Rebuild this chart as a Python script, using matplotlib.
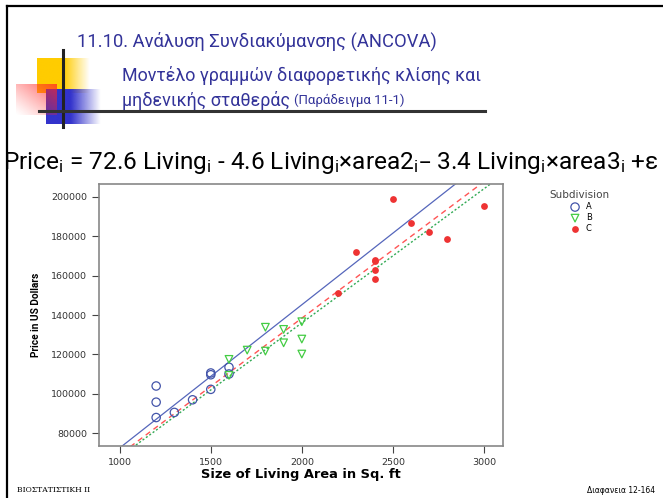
import numpy as np
import matplotlib
matplotlib.use("Agg")
import matplotlib.pyplot as plt
from matplotlib import font_manager

# --- data ---
area_a = [1200, 1200, 1200, 1300, 1400, 1500, 1500, 1500, 1600, 1600]
price_a = [104000, 95800, 88000, 90600, 97000, 110600, 109700, 102300, 113500, 110100]

area_b = [1600, 1600, 1700, 1800, 1800, 1900, 1900, 2000, 2000, 2000]
price_b = [117500, 109400, 122200, 133800, 121700, 132700, 125900, 136600, 127800, 120200]

area_c = [2200, 2300, 2400, 2400, 2400, 2400, 2500, 2600, 2700, 2800, 3000]
price_c = [151000, 172000, 168000, 167400, 162800, 158400, 199000, 186500, 182000, 178700, 195400]

# fitted slopes (no intercept): A, B, C
slope_a = 72.6
slope_b = 72.6 - 4.6
slope_c = 72.6 - 3.4

groups = ["A", "B", "C"]

names = {f.name for f in font_manager.fontManager.ttflist}
head_font = "Liberation Sans Narrow" if "Liberation Sans Narrow" in names else "Roboto"

fig = plt.figure(figsize=(6.63, 4.98), dpi=100)

# slide background / decoration in pixel coordinates
deco = fig.add_axes([0, 0, 1, 1])
deco.set_xlim(0, 663)
deco.set_ylim(498, 0)
deco.axis("off")

deco.plot([7, 7], [6, 498], color="black", lw=1.6)
deco.plot([7, 663], [6, 6], color="black", lw=1.6)


def grad_box(x0, x1, y0, y1, rgb, solid_frac, alpha=1.0, diag=False):
    n = 100
    img = np.zeros((n, n, 4))
    img[..., 0], img[..., 1], img[..., 2] = rgb
    t = np.linspace(0, 1, n)
    if diag:
        xx, yy = np.meshgrid(t, t)
        a = np.clip((xx + (1 - yy)) / 2, 0, 1) ** 1.2
    else:
        a = np.clip((1 - t) / (1 - solid_frac), 0, 1)
        a = np.tile(a, (n, 1))
    img[..., 3] = a * alpha
    deco.imshow(img, extent=[x0, x1, y1, y0], aspect="auto", interpolation="bilinear")


grad_box(37, 90, 58, 93, (1.0, 0.8, 0.0), 0.5)
grad_box(46, 101, 89, 124, (0.2, 0.2, 0.8), 0.45)
grad_box(16, 57, 84, 115, (1.0, 0.15, 0.15), 0.0, alpha=0.75, diag=True)
deco.plot([63, 63], [50, 127], color="#222222", lw=2.2)
deco.plot([39, 485], [111, 111], color="#333333", lw=2.2)
deco.set_xlim(0, 663)
deco.set_ylim(498, 0)

title_col = "#333399"
deco.text(77, 41, "11.10. Ανάλυση Συνδιακύμανσης (ANCOVA)", color=title_col,
          fontsize=13.2, family=head_font, va="center", ha="left")
deco.text(122, 75, "Μοντέλο γραμμών διαφορετικής κλίσης και", color=title_col,
          fontsize=12.9, family=head_font, va="center", ha="left")
t3 = deco.text(122, 100, "μηδενικής σταθεράς ", color=title_col,
               fontsize=12.9, family=head_font, va="center", ha="left")
deco.annotate("(Παράδειγμα 11-1)", xycoords=t3, xy=(1, 0.5), va="center",
              color=title_col, fontsize=9.5, family=head_font)

plt.rcParams["mathtext.default"] = "regular"
deco.text(3, 163, r"Price$_{i}$ = 72.6 Living$_{i}$ - 4.6 Living$_{i}$×area2$_{i}$– "
          r"3.4 Living$_{i}$×area3$_{i}$ +ε", color="black", fontsize=17.6,
          family=head_font, va="center", ha="left")

deco.text(17, 490, "ΒΙΟΣΤΑΤΙΣΤΙΚΗ ΙΙ", fontsize=5.5, family="DejaVu Serif",
          va="center", ha="left")
deco.text(655, 490, "Διαφανεια 12-164", fontsize=5.5, family="DejaVu Sans",
          va="center", ha="right")

# --- scatter chart ---
ax = fig.add_axes([0.1493, 0.1044, 0.6094, 0.5261])
ax.set_xlim(886, 3105)
ax.set_ylim(73560, 206440)

xs = np.array([886, 3105])
ax.plot(xs, slope_a * xs, color="#5566bb", lw=0.9)
ax.plot(xs, slope_c * xs, color="#ff5555", lw=1.0, ls=(0, (4, 3)))
ax.plot(xs, slope_b * xs, color="#33aa55", lw=1.0, ls=(0, (1.5, 1.5)))

ax.scatter(area_a, price_a, s=36, facecolors="none", edgecolors="#4455aa", lw=0.9, label=groups[0], zorder=3)
ax.scatter(area_b, price_b, s=30, marker="v", facecolors="none", edgecolors="#44cc44", lw=0.9, label=groups[1], zorder=3)
ax.scatter(area_c, price_c, s=24, marker="o", color="#ee3333", lw=0, label=groups[2], zorder=3)

ax.set_xticks([1000, 1500, 2000, 2500, 3000])
ax.set_yticks([80000, 100000, 120000, 140000, 160000, 180000, 200000])
ax.tick_params(direction="out", length=5, width=0.8, color="#444444",
               labelsize=6.8, labelcolor="#333333")
for s in ax.spines.values():
    s.set_color("#888888")
    s.set_linewidth(1.2)

ax.set_xlabel("Size of Living Area in Sq. ft", fontsize=9.4, fontweight="bold",
              family="DejaVu Sans", labelpad=1)
ax.set_ylabel("Price in US Dollars", fontsize=7.3, fontweight="bold", family=head_font, labelpad=7)

leg = fig.legend(loc="upper left", bbox_to_anchor=(545 / 663, 1 - 186 / 498), frameon=False,
                 title="Subdivision", fontsize=6, title_fontsize=7.5,
                 handletextpad=0.3, labelspacing=0.25, borderpad=0)
leg.get_title().set_color("#444444")

fig.savefig("out.png", dpi=100)
